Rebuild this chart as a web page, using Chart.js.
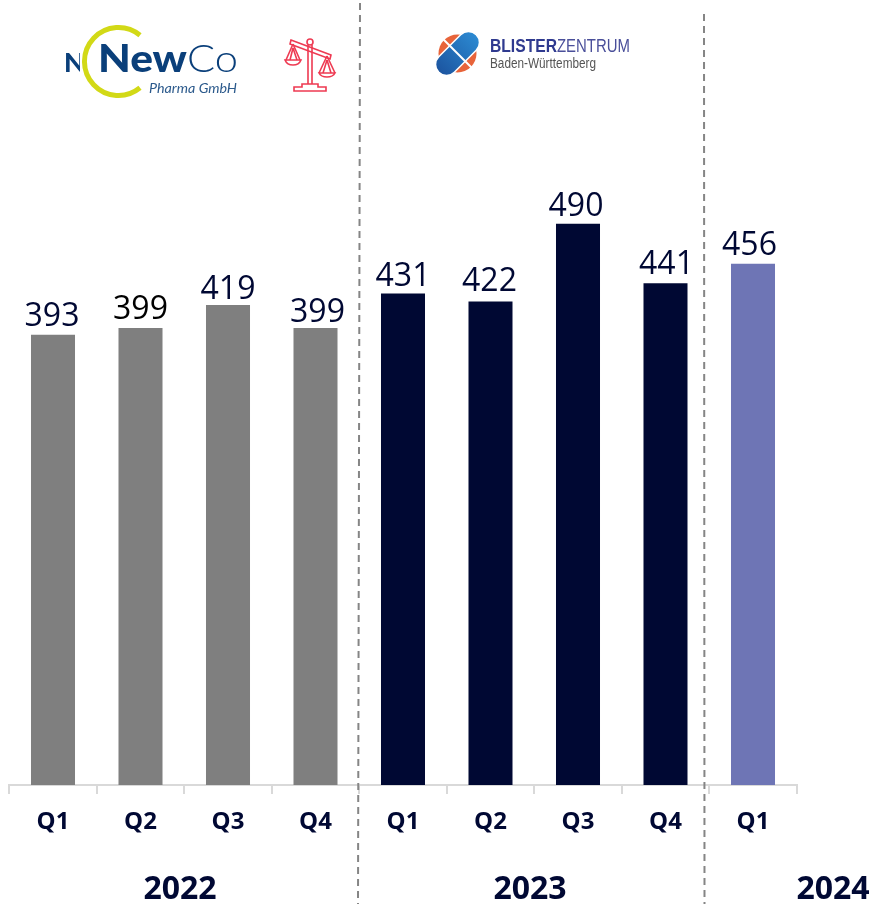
<!DOCTYPE html>
<html>
<head>
<meta charset="utf-8">
<title>Quarterly values</title>
<script src="https://cdn.jsdelivr.net/npm/chart.js@4"></script>
<style>
  html, body { margin: 0; padding: 0; background: #fff; }
  #wrap { position: relative; width: 872px; height: 904px; overflow: hidden; }
  #chart { position: absolute; left: 0; top: 0; }
  #logos { position: absolute; left: 0; top: 0; pointer-events: none; }
</style>
</head>
<body>
<div id="wrap">
  <canvas id="chart" width="872" height="904"></canvas>
  <svg id="logos" width="872" height="110" viewBox="0 0 872 110" xmlns="http://www.w3.org/2000/svg">
    <defs>
      <linearGradient id="pill" x1="0" y1="0" x2="1" y2="0">
        <stop offset="0" stop-color="#1c55a0"/>
        <stop offset="1" stop-color="#2c8ad2"/>
      </linearGradient>
      <clipPath id="cutN"><rect x="60" y="45" width="20" height="35"/></clipPath>
    </defs>

    <!-- NewCo logo -->
    <text x="64" y="72" clip-path="url(#cutN)" font-family="Lato" font-weight="900" font-size="27" fill="#0a3f7a">N</text>
    <path d="M140 35.2 A34 34 0 1 0 140 87.8" fill="none" stroke="#d2d916" stroke-width="5"/>
    <text x="98" y="72" font-family="Lato" font-weight="900" font-size="38" fill="#0a3f7a" textLength="89" lengthAdjust="spacingAndGlyphs">New</text>
    <text x="187" y="72" font-family="Lato" font-weight="300" font-size="38" fill="#0a3f7a" textLength="51" lengthAdjust="spacingAndGlyphs">Co</text>
    <text x="149" y="93" font-family="Lato" font-style="italic" font-size="14" fill="#2c5a8c" textLength="88" lengthAdjust="spacingAndGlyphs">Pharma GmbH</text>

    <!-- scales icon -->
    <g fill="none" stroke="#ee3a52" stroke-width="1.6">
      <path d="M291 40 L331 55 L330 59 L290 44 Z"/>
      <path d="M308 45 L308 84 M312 45 L312 84"/>
      <circle cx="310" cy="42" r="3"/>
      <path d="M294 91 L326 91 L326 87 L318 87 L318 84 L302 84 L302 87 L294 87 Z"/>
      <path d="M293 44 L286 60 M293 44 L300 60 M293 48 L290 60 M293 48 L297 60"/>
      <path d="M285 60 L301 60 Q299 65 293 65 Q287 65 285 60 Z"/>
      <path d="M327 56 L319 73 M327 56 L335 73 M327 60 L323 73 M327 60 L331 73"/>
      <path d="M319 73 L335 73 Q333 77 327 77 Q321 77 319 73 Z"/>
    </g>

    <!-- Blisterzentrum logo -->
    <circle cx="457.5" cy="53.5" r="19" fill="#e8643a"/>
    <g transform="rotate(-45 457.5 53.5)">
      <rect x="431" y="42.5" width="53" height="22" rx="11" fill="url(#pill)" stroke="#fff" stroke-width="1.5"/>
      <line x1="457.5" y1="26" x2="457.5" y2="81" stroke="#fff" stroke-width="2"/>
    </g>
    <text x="490" y="52" font-family="Liberation Sans" font-weight="700" font-size="18" fill="#2f3a8f" textLength="67" lengthAdjust="spacingAndGlyphs">BLISTER</text>
    <text x="557" y="52" font-family="Liberation Sans" font-size="18" fill="#4a4f9a" textLength="73" lengthAdjust="spacingAndGlyphs">ZENTRUM</text>
    <text x="490" y="68" font-family="Liberation Sans" font-size="14" fill="#555" textLength="106" lengthAdjust="spacingAndGlyphs">Baden-Württemberg</text>
  </svg>
</div>

<script>
// chart data
const categories = ['Q1', 'Q2', 'Q3', 'Q4', 'Q1', 'Q2', 'Q3', 'Q4', 'Q1'];
const barYears = ['2022', '2022', '2022', '2022', '2023', '2023', '2023', '2023', '2024'];
const yearLabels = ['2022', '2023', '2024'];
// printed numbers as they read in the picture
const printedValues = [393, 399, 419, 399, 431, 422, 490, 441, 456];
// bar heights as measured: a few bars sit slightly lower than their printed number
const barHeights = [393, 399, 419, 399, 429, 422, 490, 438, 455];

const yearColors = { '2022': '#7f7f7f', '2023': '#000833', '2024': '#6e75b5' };
const yearLabelX = { '2022': 180, '2023': 530, '2024': 833 };
const textColor = '#000833';
const fontName = '"Open Sans"';

// the number boxes are hand placed in the original, so each one has its own nudge
const labelNudgeX = [-1, 0, 0, 2, 0, -1, -2, 1, -3.5];
const labelGapY = [9, 9, 6, 6, 8, 11, 8, 9, 9];
const labelColors = [textColor, '#000000', textColor, textColor, textColor, textColor, textColor, textColor, textColor];

// value labels above the bars
const valueLabels = {
  id: 'valueLabels',
  afterDatasetsDraw(chart) {
    const ctx = chart.ctx;
    const meta = chart.getDatasetMeta(0);
    ctx.save();
    ctx.font = '32px ' + fontName;
    ctx.textAlign = 'center';
    ctx.textBaseline = 'alphabetic';
    meta.data.forEach((bar, i) => {
      ctx.fillStyle = labelColors[i];
      ctx.fillText(printedValues[i], bar.x + labelNudgeX[i], bar.y - labelGapY[i]);
    });
    ctx.restore();
  }
};

// year captions and the dashed separators
const yearsAndDividers = {
  id: 'yearsAndDividers',
  afterDraw(chart) {
    const ctx = chart.ctx;
    ctx.save();
    ctx.font = 'bold 32px ' + fontName;
    ctx.fillStyle = textColor;
    ctx.textAlign = 'center';
    ctx.textBaseline = 'alphabetic';
    yearLabels.forEach(year => ctx.fillText(year, yearLabelX[year], 899));

    ctx.strokeStyle = '#858585';
    ctx.lineWidth = 2;
    ctx.setLineDash([7, 5]);
    ctx.beginPath();
    ctx.moveTo(360, 3);
    ctx.lineTo(358, 904);
    ctx.moveTo(704, 14);
    ctx.lineTo(704.5, 904);
    ctx.stroke();
    ctx.restore();
  }
};

new Chart(document.getElementById('chart').getContext('2d'), {
  type: 'bar',
  data: {
    labels: categories,
    datasets: [{
      data: barHeights,
      backgroundColor: barYears.map(year => yearColors[year]),
      categoryPercentage: 1,
      barPercentage: 0.503
    }]
  },
  options: {
    responsive: false,
    animation: false,
    layout: { padding: { left: 9.25, right: 75.25, top: 0, bottom: 0 } },
    plugins: {
      legend: { display: false },
      tooltip: { enabled: false }
    },
    scales: {
      x: {
        afterFit(scale) { scale.height = 119; },
        border: { color: '#d9d9d9', width: 2 },
        grid: {
          offset: true,
          drawOnChartArea: false,
          color: '#d9d9d9',
          lineWidth: 2,
          tickLength: 9
        },
        ticks: {
          color: textColor,
          font: { family: 'Open Sans', size: 24, weight: 'bold' },
          padding: 14,
          autoSkip: false,
          maxRotation: 0
        }
      },
      y: {
        display: false,
        min: 0,
        max: 685.3
      }
    }
  },
  plugins: [valueLabels, yearsAndDividers]
});
</script>
</body>
</html>
